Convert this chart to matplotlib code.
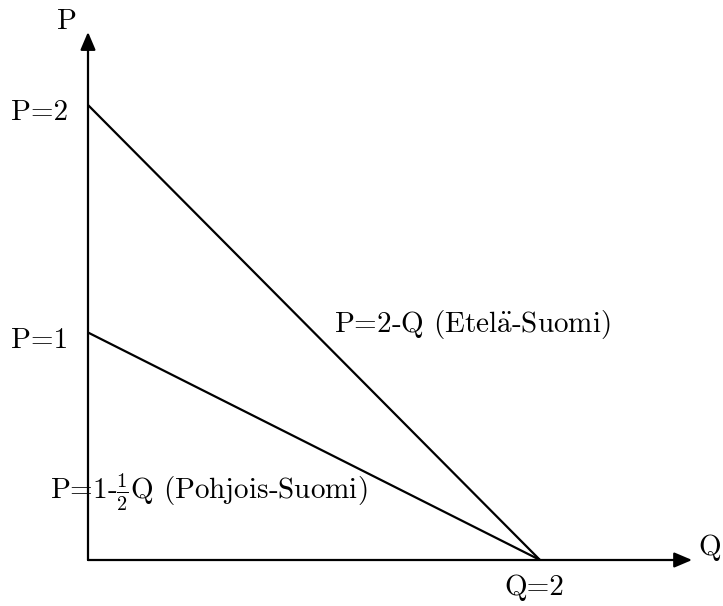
import matplotlib
matplotlib.use('Agg')
import matplotlib.pyplot as plt

# Kysyntäkäyrät: P = a - b*Q
regions = ["Etelä-Suomi", "Pohjois-Suomi"]
p_intercepts = [2, 1]
q_intercepts = [2, 2]
curve_labels = ["P=2-Q (Etel$\\mathrm{\\ddot{a}}$-Suomi)",
                "P=1-$\\frac{1}{2}$Q (Pohjois-Suomi)"]
p_ticks = [2, 1]
p_tick_labels = ["P=2", "P=1"]
q_ticks = [2]
q_tick_labels = ["Q=2"]

plt.rcParams['mathtext.fontset'] = 'cm'
plt.rcParams['font.family'] = ['cmr10', 'DejaVu Serif']
plt.rcParams['axes.unicode_minus'] = False

fig = plt.figure(figsize=(7.23, 6.06), dpi=100)
ax = fig.add_axes([0, 0, 1, 1])
ax.set_xlim(-88 / 226, (723 - 88) / 226)
ax.set_ylim(-(606 - 560) / 227.5, 560 / 227.5)
ax.axis('off')

fs = 21
lw = 1.6

# akselit nuolineen
arrow = dict(arrowstyle='-|>,head_length=0.4,head_width=0.17', color='black',
             lw=lw, mutation_scale=27, shrinkA=0, shrinkB=0)
ax.annotate("", xy=(2.673, 0), xytext=(0, 0), arrowprops=arrow)
ax.annotate("", xy=(0, 2.321), xytext=(0, 0), arrowprops=arrow)
ax.text(2.80, 0.053, "Q", fontsize=fs, ha='right', va='center')
ax.text(-0.093, 2.365, "P", fontsize=fs, ha='center', va='center')

# käyrät
for p0, q0 in zip(p_intercepts, q_intercepts):
    ax.plot([0, q0], [p0, 0], color='black', lw=lw, solid_capstyle='butt')

# akselien merkinnät
for p, lab in zip(p_ticks, p_tick_labels):
    ax.text(-0.088, p - 0.035, lab, fontsize=fs, ha='right', va='center')
for q, lab in zip(q_ticks, q_tick_labels):
    ax.text(q - 0.027, -0.123, lab, fontsize=fs, ha='center', va='center')

ax.text(1.09, 1.035, curve_labels[0], fontsize=fs, ha='left', va='center')
ax.text(-0.168, 0.295, curve_labels[1], fontsize=fs, ha='left', va='center')

plt.savefig("out.png", dpi=100)
plt.close()
